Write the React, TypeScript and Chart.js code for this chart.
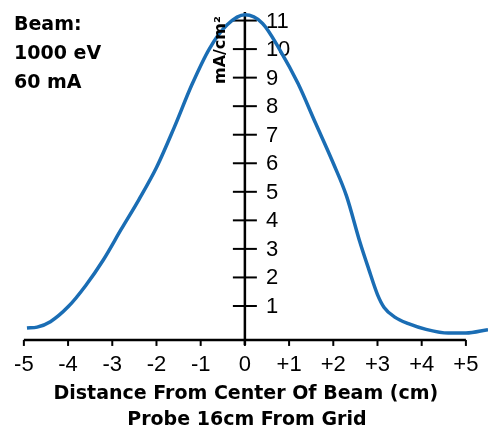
import React, { useEffect, useRef } from "react";
import { Chart, registerables } from "chart.js";

Chart.register(...registerables);

// Data
const distanceCm = [-4.93, -4.7, -4.4, -4.0, -3.6, -3.2, -2.8, -2.4, -2.0, -1.6, -1.2, -0.8, -0.4, 0, 0.4, 0.8, 1.2, 1.6, 2.0, 2.3, 2.6, 2.8, 3.0, 3.15, 3.4, 3.7, 4.1, 4.6, 5.0, 5.5];
const currentDensity = [0.23, 0.26, 0.45, 0.97, 1.72, 2.62, 3.68, 4.72, 5.85, 7.25, 8.75, 10.02, 10.85, 11.2, 10.9, 9.95, 8.8, 7.4, 6.0, 4.85, 3.25, 2.3, 1.4, 0.95, 0.6, 0.38, 0.18, 0.05, 0.05, 0.17];

const xTickValues = [-5, -4, -3, -2, -1, 0, 1, 2, 3, 4, 5];
const xTickLabels = ["-5", "-4", "-3", "-2", "-1", "0", "+1", "+2", "+3", "+4", "+5"];
const yTickValues = [1, 2, 3, 4, 5, 6, 7, 8, 9, 10, 11];
const yTickLabels = ["1", "2", "3", "4", "5", "6", "7", "8", "9", "10", "11"];

const beamLines = ["Beam:", "1000 eV", "60 mA"];
const xTitle = "Distance From Center Of Beam (cm)";
const xSubTitle = "Probe 16cm From Grid";
const yTitle = "mA/cm²";

const axisBaseValue = -0.19;
const yAxisTopValue = 11.3;

const axesPlugin = {
  id: "customAxes",
  beforeDatasetsDraw(chart: any) {
    const ctx = chart.ctx;
    const xs = chart.scales.x;
    const ys = chart.scales.y;
    const x0 = xs.getPixelForValue(0);
    const yBase = ys.getPixelForValue(axisBaseValue);
    ctx.save();
    ctx.strokeStyle = "#000";
    ctx.fillStyle = "#000";
    ctx.lineWidth = 2.5;
    ctx.beginPath();
    ctx.moveTo(xs.getPixelForValue(-5), yBase);
    ctx.lineTo(xs.getPixelForValue(5), yBase);
    ctx.stroke();
    ctx.lineWidth = 2;
    xTickValues.forEach((v) => {
      const px = xs.getPixelForValue(v);
      ctx.beginPath();
      ctx.moveTo(px, yBase);
      ctx.lineTo(px, yBase + 6);
      ctx.stroke();
    });
    ctx.lineWidth = 2.5;
    ctx.beginPath();
    ctx.moveTo(x0, ys.getPixelForValue(yAxisTopValue));
    ctx.lineTo(x0, yBase + 5);
    ctx.stroke();
    ctx.lineWidth = 2;
    yTickValues.forEach((v) => {
      const py = ys.getPixelForValue(v);
      ctx.beginPath();
      ctx.moveTo(x0 - 12, py);
      ctx.lineTo(x0 + 12, py);
      ctx.stroke();
    });
    ctx.font = "22px 'Liberation Sans'";
    ctx.textAlign = "center";
    ctx.textBaseline = "top";
    xTickValues.forEach((v, i) => {
      ctx.fillText(xTickLabels[i], xs.getPixelForValue(v), yBase + 14);
    });
    ctx.textAlign = "left";
    ctx.textBaseline = "middle";
    yTickValues.forEach((v, i) => {
      ctx.fillText(yTickLabels[i], x0 + 21, ys.getPixelForValue(v) + 1);
    });
    ctx.restore();
  },
  afterDraw(chart: any) {
    const ctx = chart.ctx;
    const xs = chart.scales.x;
    const x0 = xs.getPixelForValue(0);
    ctx.save();
    ctx.fillStyle = "#000";
    ctx.font = "bold 19px 'DejaVu Sans'";
    ctx.textAlign = "left";
    ctx.textBaseline = "alphabetic";
    beamLines.forEach((t, i) => ctx.fillText(t, 14, 30 + i * 29));
    ctx.textAlign = "center";
    ctx.font = "bold 19px 'DejaVu Sans'";
    ctx.fillText(xTitle, x0 + 1, 399);
    ctx.fillText(xSubTitle, x0 + 2, 425);
    ctx.translate(221, 50);
    ctx.rotate(-Math.PI / 2);
    ctx.font = "bold 16px 'DejaVu Sans'";
    ctx.textAlign = "center";
    ctx.textBaseline = "middle";
    ctx.fillText(yTitle, 0, 0);
    ctx.restore();
  },
};

export default function App() {
  const canvasRef = useRef<HTMLCanvasElement | null>(null);
  useEffect(() => {
    const canvas = canvasRef.current;
    if (!canvas) return;
    const chart = new Chart(canvas, {
      type: "line",
      data: {
        datasets: [
          {
            data: distanceCm.map((x, i) => ({ x, y: currentDensity[i] })),
            borderColor: "#1a6db4",
            borderWidth: 3.5,
            pointRadius: 0,
            fill: false,
            cubicInterpolationMode: "monotone",
          },
        ],
      },
      options: {
        animation: false,
        responsive: false,
        maintainAspectRatio: false,
        layout: { padding: 0 },
        plugins: { legend: { display: false }, tooltip: { enabled: false }, title: { display: false } },
        scales: {
          x: { type: "linear", min: -5.54, max: 5.5, display: false },
          y: { type: "linear", min: -3.31, max: 11.72, display: false },
        },
      },
      plugins: [axesPlugin],
    });
    return () => chart.destroy();
  }, []);
  return (
    <div style={{ position: "fixed", left: 0, top: 0, width: 488, height: 429, background: "#fff" }}>
      <canvas ref={canvasRef} width={488} height={429} style={{ width: 488, height: 429 }} />
    </div>
  );
}
